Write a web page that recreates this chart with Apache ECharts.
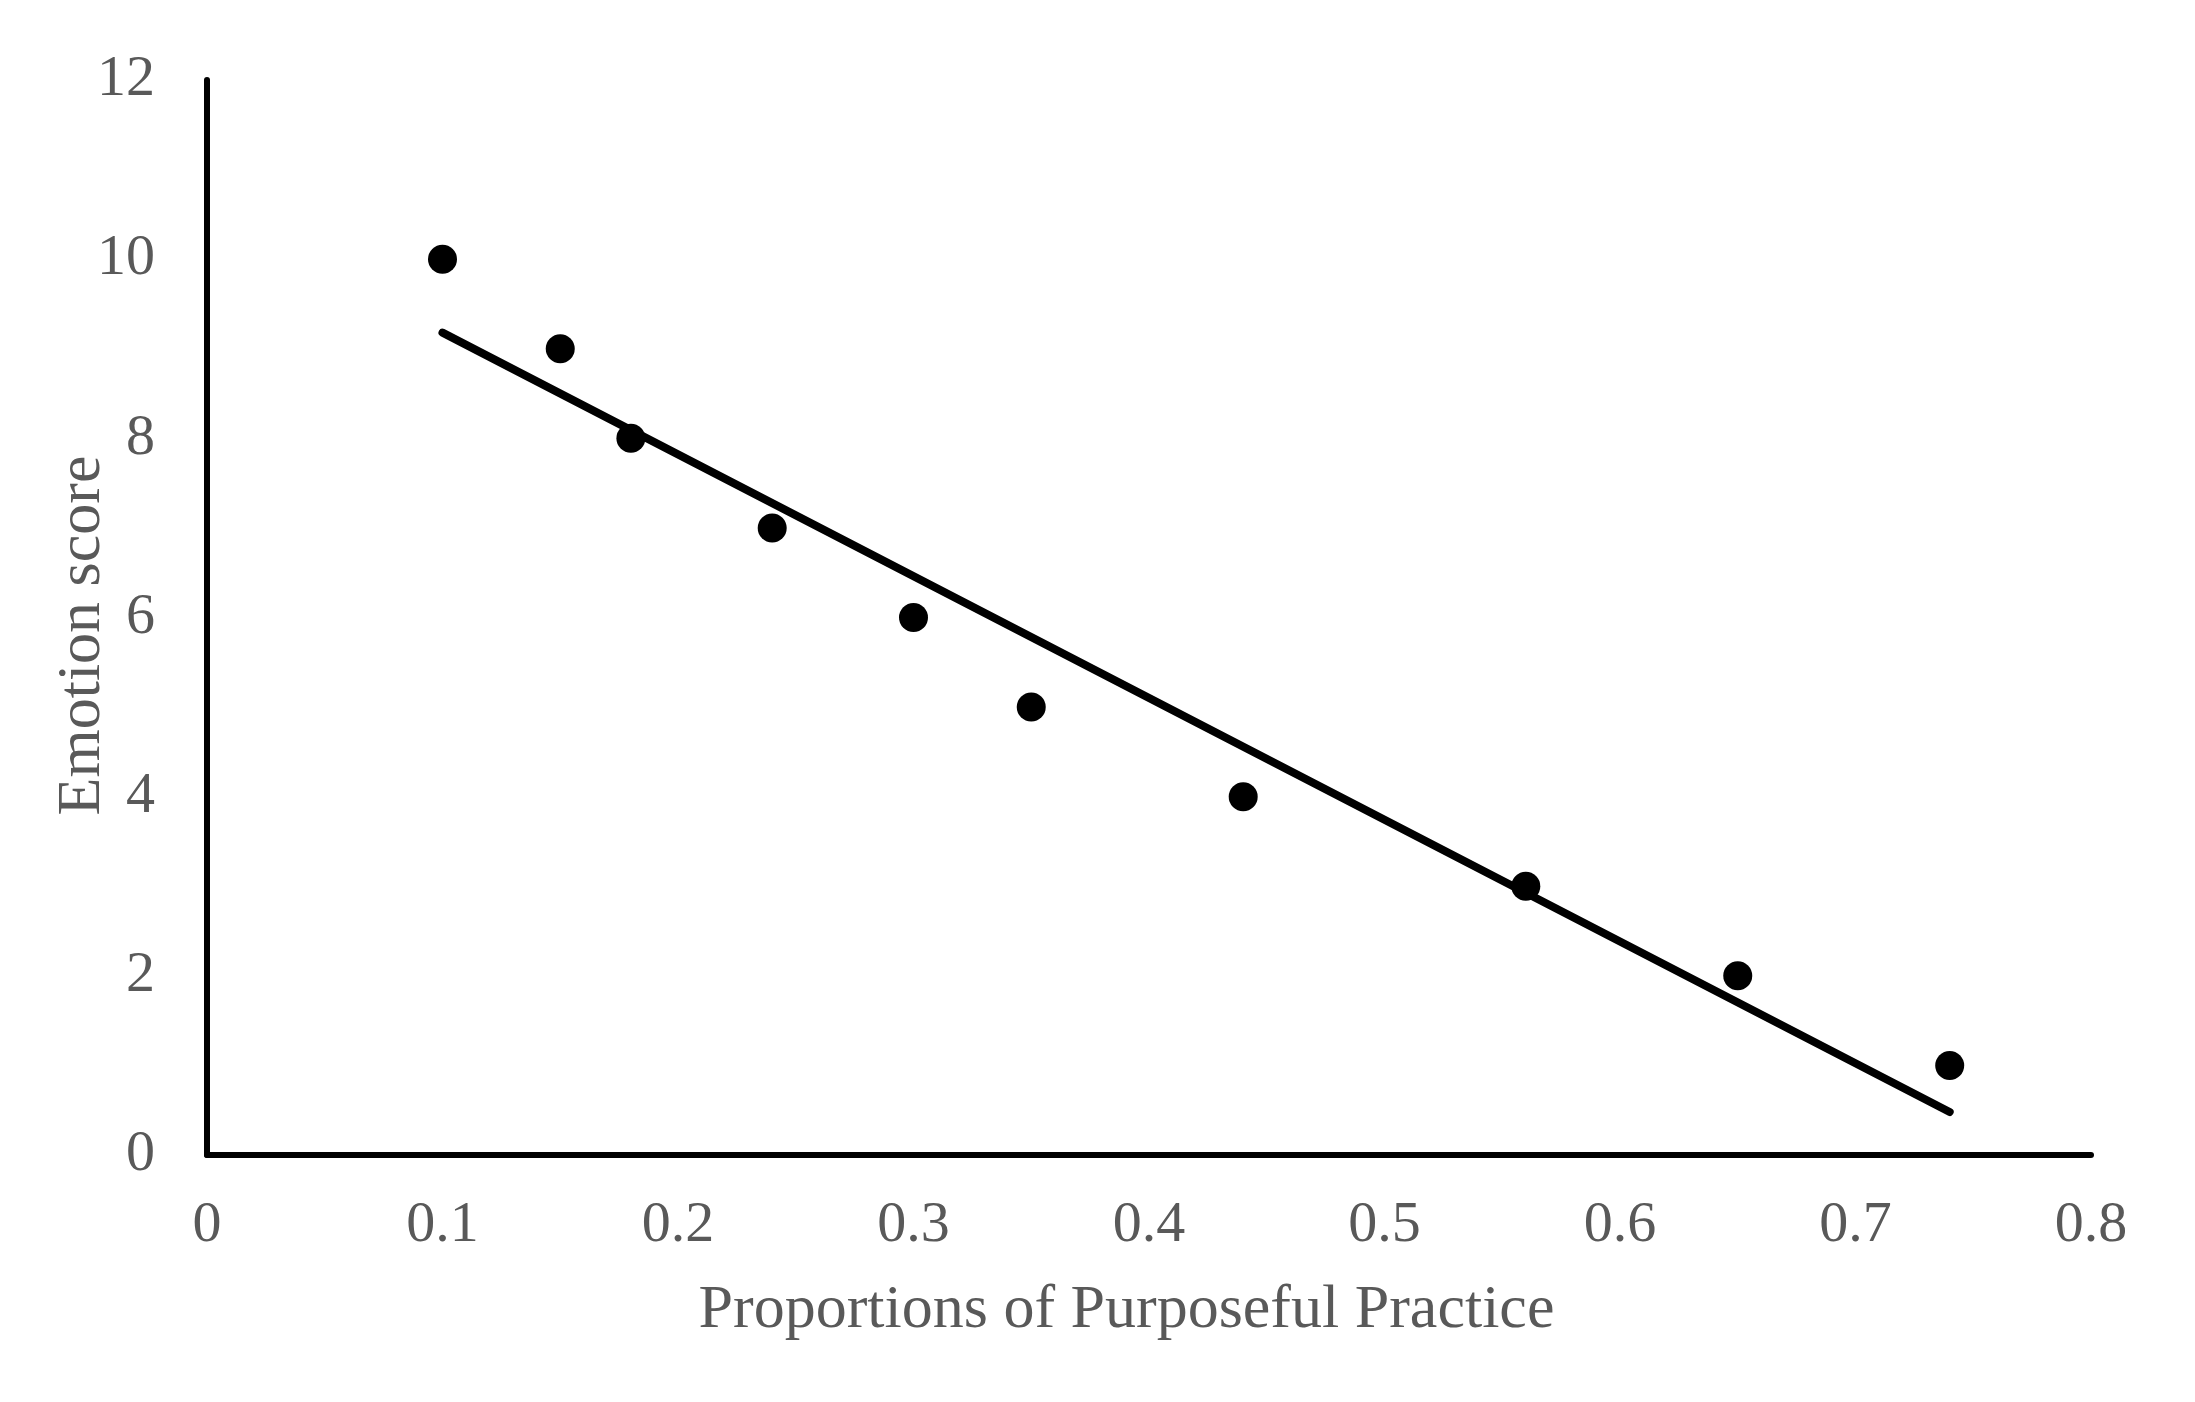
<!DOCTYPE html>
<html>
<head>
<meta charset="utf-8">
<script src="https://cdn.jsdelivr.net/npm/echarts@6/dist/echarts.min.js"></script>
<style>
html,body{margin:0;padding:0;background:#fff;}
#chart{width:2195px;height:1402px;}
</style>
</head>
<body>
<div id="chart"></div>
<script>
// Data
var practiceProportion = [0.10, 0.15, 0.18, 0.24, 0.30, 0.35, 0.44, 0.56, 0.65, 0.74];
var emotionScore       = [10, 9, 8, 7, 6, 5, 4, 3, 2, 1];
// Linear trend line end points
var trendX = [0.10, 0.74];
var trendY = [9.18, 0.48];
var xTicks = [0, 0.1, 0.2, 0.3, 0.4, 0.5, 0.6, 0.7, 0.8];
var yTicks = [0, 2, 4, 6, 8, 10, 12];

var scatterData = practiceProportion.map(function (x, i) { return [x, emotionScore[i]]; });
var trendData = trendX.map(function (x, i) { return [x, trendY[i]]; });

var font = 'Liberation Serif';
var gray = '#595959';

var chart = echarts.init(document.getElementById('chart'));
chart.setOption({
  backgroundColor: '#ffffff',
  animation: false,
  grid: { left: 207, right: 104, top: 80, bottom: 247, containLabel: false },
  xAxis: {
    type: 'value',
    min: xTicks[0],
    max: xTicks[xTicks.length - 1],
    interval: 0.1,
    name: 'Proportions of Purposeful Practice',
    nameLocation: 'middle',
    nameGap: 125,
    nameMoveOverlap: false,
    nameTextStyle: { fontFamily: font, fontSize: 62, color: gray, padding: [0, 45, 0, 0] },
    axisLine: { show: true, onZero: false, lineStyle: { color: '#000', width: 6 } },
    axisTick: { show: false },
    splitLine: { show: false },
    axisLabel: {
      margin: 42,
      fontFamily: font, fontSize: 58, color: gray,
      formatter: function (v) { return (Math.round(v * 10) / 10).toString(); }
    }
  },
  yAxis: {
    type: 'value',
    min: yTicks[0],
    max: yTicks[yTicks.length - 1],
    interval: 2,
    name: 'Emotion score',
    nameLocation: 'middle',
    nameGap: 93,
    nameMoveOverlap: false,
    nameTextStyle: { fontFamily: font, fontSize: 62, color: gray, padding: [0, 36, 0, 0] },
    axisLine: { show: true, lineStyle: { color: '#000', width: 6 } },
    axisTick: { show: false },
    splitLine: { show: false },
    axisLabel: { margin: 52, fontFamily: font, fontSize: 58, color: gray }
  },
  series: [
    {
      type: 'line',
      data: trendData,
      showSymbol: false,
      symbol: 'none',
      lineStyle: { color: '#000', width: 8, cap: 'round' },
      z: 2
    },
    {
      type: 'scatter',
      data: scatterData,
      symbol: 'circle',
      symbolSize: 29,
      itemStyle: { color: '#000', opacity: 1 },
      z: 3
    }
  ]
});
</script>
</body>
</html>
